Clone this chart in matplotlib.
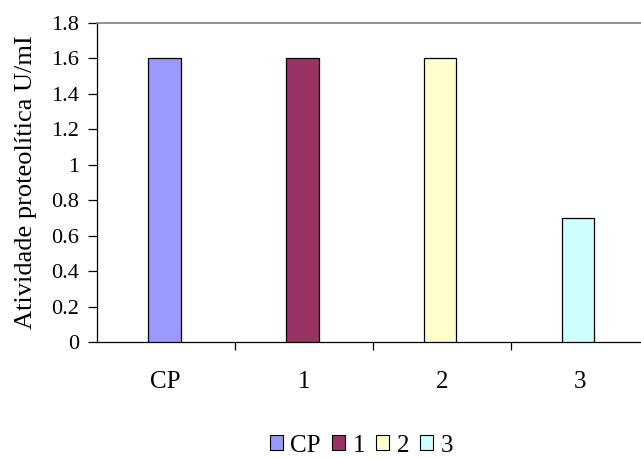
import matplotlib
matplotlib.use("Agg")
import matplotlib.pyplot as plt
import numpy as np
from matplotlib.patches import Patch

categories = ["CP", "1", "2", "3"]
values = [1.6, 1.6, 1.6, 0.7]
colors = ["#9999FF", "#993366", "#FFFFCC", "#CCFFFF"]
y_ticks = [0, 0.2, 0.4, 0.6, 0.8, 1, 1.2, 1.4, 1.6, 1.8]
y_tick_labels = ["0", "0.2", "0.4", "0.6", "0.8", "1", "1.2", "1.4", "1.6", "1.8"]

plt.rcParams["font.family"] = ["Liberation Serif", "DejaVu Serif"]

fig = plt.figure(figsize=(6.41, 4.58), dpi=100)
ax = fig.add_axes([0.1509, 0.2533, 0.861, 0.6965])

x = np.arange(len(categories))
ax.bar(x - 0.01, values, width=0.235, color=colors, edgecolor="black", linewidth=0.9, zorder=3)

ax.set_xlim(-0.5, len(categories) - 0.5)
ax.set_ylim(0, 1.8)
ax.set_yticks(y_ticks)
ax.set_yticklabels(y_tick_labels, fontsize=16)
ax.set_xticks(x)
ax.set_xticklabels(categories, fontsize=18)
ax.tick_params(axis="x", length=0, pad=21)
ax.set_xticks(np.arange(0.5, len(categories) - 0.5, 1), minor=True)
ax.tick_params(axis="x", which="minor", length=5.8, direction="out", color="black", width=0.9)
ax.tick_params(axis="y", length=6.2, direction="out", width=0.9, pad=6.5)

ax.spines["right"].set_visible(False)
ax.spines["top"].set_color("#808080")
ax.spines["top"].set_linewidth(1.2)
ax.spines["left"].set_color("black")
ax.spines["left"].set_linewidth(0.9)
ax.spines["bottom"].set_color("black")
ax.spines["bottom"].set_linewidth(0.9)

ax.set_ylabel("Atividade proteolítica U/mI", fontsize=19, labelpad=10)

handles = [Patch(facecolor=c, edgecolor="black", linewidth=0.8) for c in colors]
fig.legend(handles, categories, loc="center", bbox_to_anchor=(0.564, 0.027), ncol=4,
           frameon=False, fontsize=18, handlelength=0.52, handleheight=0.52,
           handletextpad=0.3, columnspacing=0.45, borderpad=0.1)

fig.savefig("out.png", dpi=100)
